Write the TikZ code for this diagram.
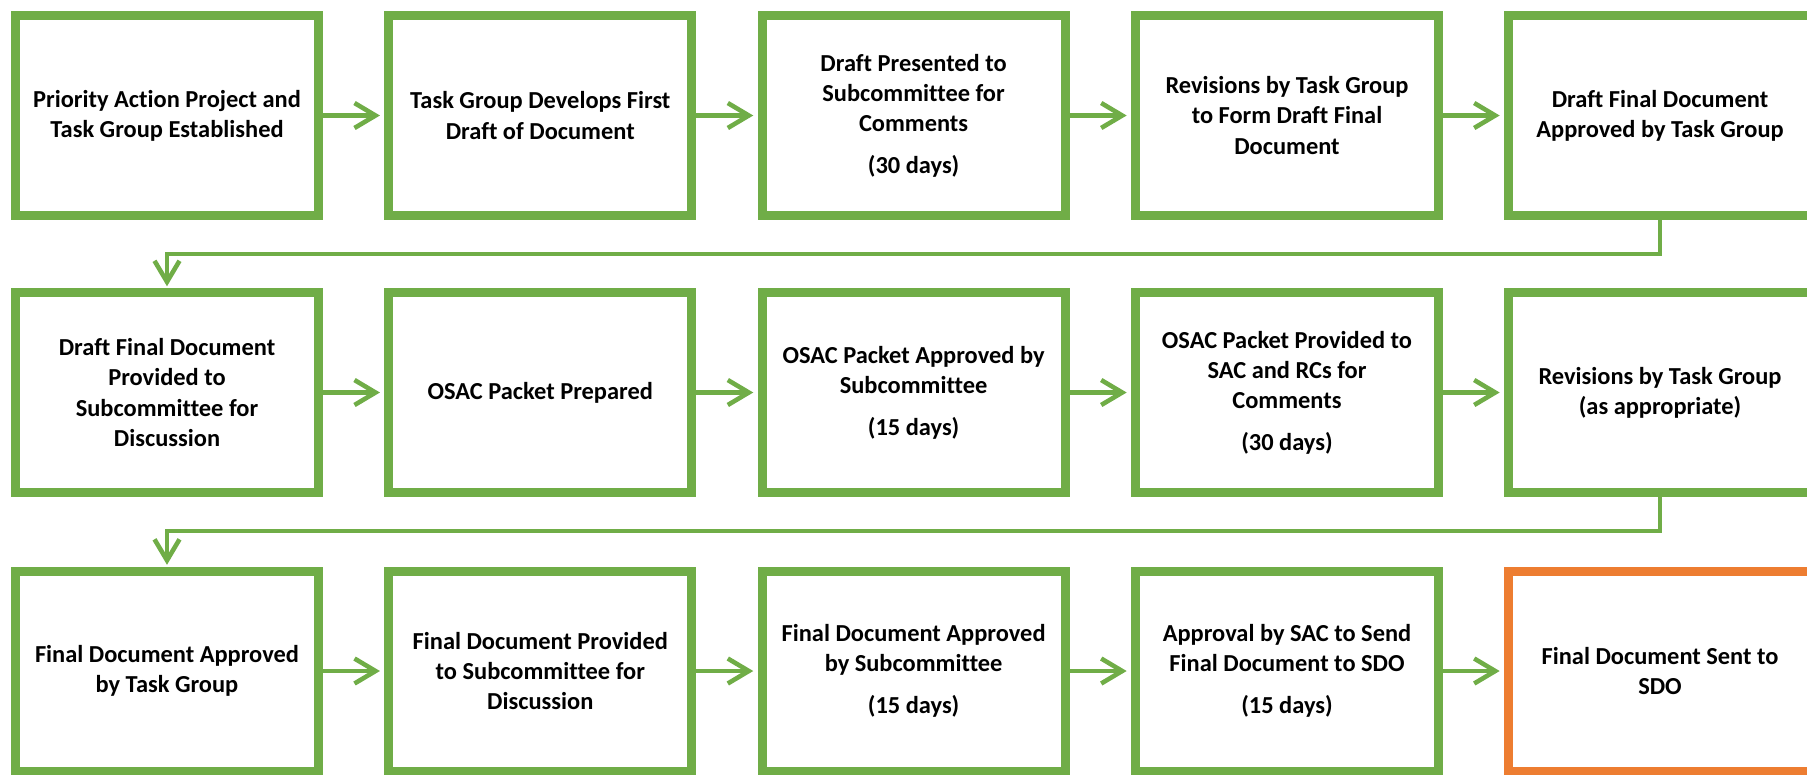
\documentclass[tikz,border=0pt]{standalone}
\usepackage{fontspec}
\setmainfont{Carlito}[Ligatures=NoCommon]
\usetikzlibrary{arrows.meta}
\definecolor{stepgreen}{HTML}{70AD47}
\definecolor{steporange}{HTML}{ED7D31}
\begin{document}
\begin{tikzpicture}[x=0.02cm,y=-0.02cm,
	box/.style={rectangle,draw=stepgreen,line width=5.1pt,fill=white,minimum width=6.06cm,minimum height=4cm,inner sep=0pt,align=center,font=\fontsize{13.9}{17.1}\selectfont\bfseries},
	last/.style={box,draw=steporange},
	link/.style={draw=stepgreen,line width=2.6pt,-{Straight Barb[length=0.42cm,width=0.5cm]}}]
	\useasboundingbox (0,0) rectangle (1807,775);
	\node (a1) at (167,115.5) [box] {Priority Action Project and\\Task Group Established};
	\node (a2) at (540.3,115.5) [box] {Task Group Develops First\\Draft of Document};
	\node (a3) at (913.6,115.5) [box] {Draft Presented to\\Subcommittee for\\Comments\\[6.8pt](30 days)};
	\node (a4) at (1287,115.5) [box] {Revisions by Task Group\\to Form Draft Final\\Document};
	\node (a5) at (1660,115.5) [box] {Draft Final Document\\Approved by Task Group};
	\node (b1) at (167,392.5) [box] {Draft Final Document\\Provided to\\Subcommittee for\\Discussion};
	\node (b2) at (540.3,392.5) [box] {OSAC Packet Prepared};
	\node (b3) at (913.6,392.5) [box] {OSAC Packet Approved by\\Subcommittee\\[6.8pt](15 days)};
	\node (b4) at (1287,392.5) [box] {OSAC Packet Provided to\\SAC and RCs for\\Comments\\[6.8pt](30 days)};
	\node (b5) at (1660,392.5) [box] {Revisions by Task Group\\(as appropriate)};
	\node (c1) at (167,671) [box] {Final Document Approved\\by Task Group};
	\node (c2) at (540.3,671) [box] {Final Document Provided\\to Subcommittee for\\Discussion};
	\node (c3) at (913.6,671) [box] {Final Document Approved\\by Subcommittee\\[6.8pt](15 days)};
	\node (c4) at (1287,671) [box] {Approval by SAC to Send\\Final Document to SDO\\[6.8pt](15 days)};
	\node (c5) at (1660,671) [last] {Final Document Sent to\\SDO};
	\draw[link,shorten >=2.5pt] (a1) -- (a2);
	\draw[link,shorten >=2.5pt] (a2) -- (a3);
	\draw[link,shorten >=2.5pt] (a3) -- (a4);
	\draw[link,shorten >=2.5pt] (a4) -- (a5);
	\draw[link,shorten >=1pt] (a5.south) -- ++(0,34) -| (b1.north);
	\draw[link,shorten >=2.5pt] (b1) -- (b2);
	\draw[link,shorten >=2.5pt] (b2) -- (b3);
	\draw[link,shorten >=2.5pt] (b3) -- (b4);
	\draw[link,shorten >=2.5pt] (b4) -- (b5);
	\draw[link,shorten >=1pt] (b5.south) -- ++(0,34) -| (c1.north);
	\draw[link,shorten >=2.5pt] (c1) -- (c2);
	\draw[link,shorten >=2.5pt] (c2) -- (c3);
	\draw[link,shorten >=2.5pt] (c3) -- (c4);
	\draw[link,shorten >=2.5pt] (c4) -- (c5);
\end{tikzpicture}
\end{document}
